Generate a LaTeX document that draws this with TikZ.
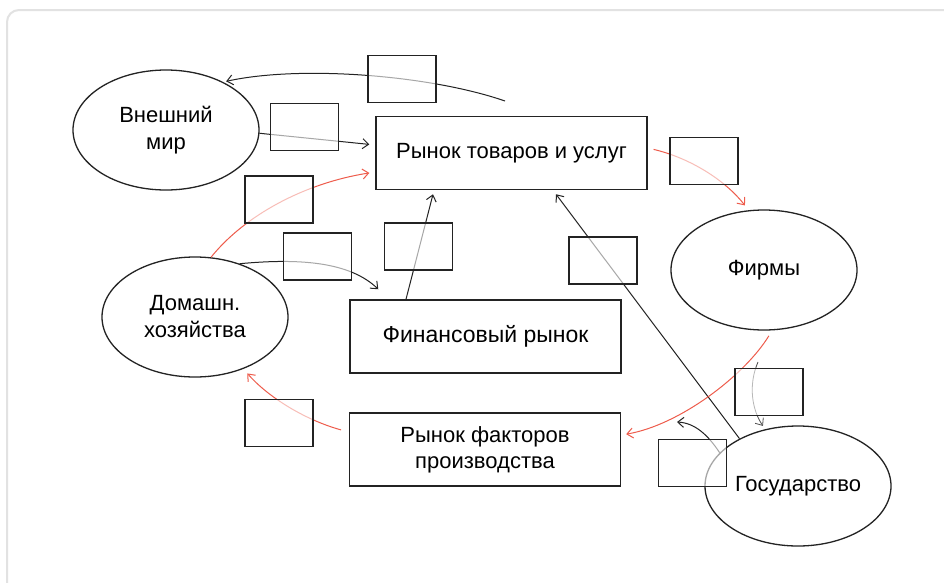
\documentclass[tikz,border=0pt]{standalone}
\usepackage{fontspec}
\setmainfont{Liberation Sans}
\usetikzlibrary{shapes.geometric,arrows.meta}
\definecolor{flowred}{RGB}{238,92,76}
\definecolor{ink}{RGB}{35,35,35}
\definecolor{framegray}{RGB}{226,226,226}
\begin{document}
\begin{tikzpicture}[x=1pt,y=-1pt,
  ell/.style={ellipse, draw=ink, line width=1.3pt, minimum width=186pt, minimum height=120pt, inner sep=0pt, align=center, font=\fontsize{22}{27}\selectfont},
  mkt/.style={rectangle, draw=ink, line width=1.5pt, minimum width=271pt, minimum height=73pt, inner sep=0pt, align=center, font=\fontsize{22}{26}\selectfont},
  blank/.style={rectangle, draw=ink, line width=1.6pt, fill=white, fill opacity=0.6, minimum width=68pt, minimum height=47pt, inner sep=0pt},
  flow/.style={-{Straight Barb[length=6pt,width=10pt]}, line width=1pt, draw=ink},
  redflow/.style={flow, draw=flowred},
  thinflow/.style={flow, line width=0.8pt, draw=ink!80}]
\useasboundingbox (0,0) rectangle (944,582);
\fill[white] (0,0) rectangle (944,582);
\begin{scope}
  \clip (0,0) rectangle (944,582);
  \draw[framegray, line width=2pt, rounded corners=12pt] (7,10) rectangle (970,610);
\end{scope}

% main nodes
\node[ell] (vm) at (166,130) {Внешний\\мир};
\node[ell] (dh) at (195,317) {Домашн.\\хозяйства};
\node[ell] (fi) at (764,270) {Фирмы};
\node[ell] (gos) at (798,486) {Государство};
\node[mkt] (rtu) at (511.5,153) {Рынок товаров и услуг};
\node[mkt, font=\fontsize{23}{26}\selectfont] (fr) at (485.5,336.5) {Финансовый рынок};
\node[mkt] (rfp) at (485,449.5) {Рынок факторов\\производства};

% free ends
\coordinate (a0) at (505,101);
\coordinate (i0) at (758,362);
\coordinate (j1) at (677,422);

% connectors
\draw[flow, shorten >=3pt] (a0) .. controls (430,75) and (300,65) .. (vm.40);
\draw[flow, shorten >=6pt] (vm.358) -- ([yshift=8pt]rtu.west);
\draw[redflow, shorten >=6pt] (dh.75) .. controls (245,215) and (305,183) .. ([yshift=-19pt]rtu.west);
\draw[flow] (dh.50) .. controls (300,258) and (350,262) .. ([xshift=29pt,yshift=10pt]fr.north west);
\draw[flow] ([xshift=-79.5pt]fr.north) -- ([xshift=-78.5pt,yshift=-4pt]rtu.south);
\draw[flow] (gos.141) -- ([xshift=44.5pt,yshift=-4pt]rtu.south);
\draw[redflow, shorten <=6pt, shorten >=5pt] ([yshift=5pt]rtu.east) .. controls (690,158) and (725,180) .. ([xshift=-16pt]fi.north);
\draw[redflow, shorten <=6pt, shorten >=5pt] ([xshift=8pt]fi.south) .. controls (745,375) and (680,425) .. ([yshift=14.5pt]rfp.east);
\draw[thinflow, shorten >=4pt] (i0) .. controls (748,385) and (752,410) .. (gos.120);
\draw[flow] (gos.157) .. controls (708,435) and (695,423) .. (j1);
\draw[redflow, shorten <=8pt, shorten >=6pt] ([yshift=17.5pt]rfp.west) .. controls (305,420) and (268,397) .. (dh.-47);

% empty boxes
\node[blank] (b1) at (402,79) {};
\node[blank] (b2) at (304.5,127) {};
\node[blank] (b3) at (704,161) {};
\node[blank] (b4) at (279,199.5) {};
\node[blank] (b5) at (317.5,256.5) {};
\node[blank] (b6) at (418.5,246.5) {};
\node[blank] (b7) at (603,260.5) {};
\node[blank] (b8) at (769,392) {};
\node[blank] (b9) at (692.5,463) {};
\node[blank] (b10) at (279,423) {};
\end{tikzpicture}
\end{document}
